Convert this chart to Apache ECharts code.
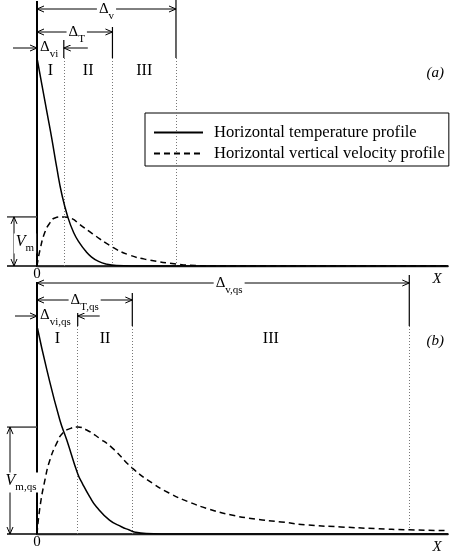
<!DOCTYPE html>
<html>
<head>
<meta charset="utf-8">
<script src="https://cdn.jsdelivr.net/npm/echarts@6/dist/echarts.min.js"></script>
<style>
  html, body { margin: 0; background: #fff; }
  #chart { width: 451px; height: 560px; }
</style>
</head>
<body>
<div id="chart"></div>
<script>
// horizontal distance from the wall (arbitrary units), profiles normalised to the wall value
const tempA_x = [0, 5, 10, 15, 20, 25, 31, 37, 43, 49, 55, 62, 70, 80, 95, 414];
const tempA_y = [1.0, 0.87, 0.74, 0.61, 0.47, 0.345, 0.236, 0.16, 0.11, 0.072, 0.043, 0.022, 0.009, 0.002, 0, 0];
const velA_x = [0, 3, 8, 13, 18, 26, 35, 43, 56, 76, 93, 113, 140, 160, 180, 414];
const velA_y = [0, 0.077, 0.163, 0.207, 0.231, 0.236, 0.228, 0.2, 0.155, 0.091, 0.053, 0.029, 0.01, 0.002, 0, 0];

const tempB_x = [0, 10, 23, 30, 41, 46, 53, 60, 73, 85, 93, 98, 110, 125, 414];
const tempB_y = [1.0, 0.788, 0.548, 0.452, 0.29, 0.24, 0.18, 0.13, 0.067, 0.035, 0.019, 0.01, 0.002, 0, 0];
const velB_x = [0, 3, 8, 13, 20, 26, 34, 41, 50, 63, 76, 96, 116, 133, 153, 173, 196, 220, 246, 273, 306, 340, 375, 414];
const velB_y = [0, 0.13, 0.26, 0.356, 0.438, 0.486, 0.508, 0.514, 0.5, 0.46, 0.413, 0.317, 0.245, 0.197, 0.154, 0.12, 0.091, 0.072, 0.058, 0.043, 0.034, 0.026, 0.02, 0.016];

// zone boundaries: [Δvi, ΔT, Δv]
const zonesA = [27, 76, 140];
const zonesB = [41, 96, 375];
const zoneLabels = ['I', 'II', 'III'];
const dimLabelsA = ['vi', 'T', 'v'];
const dimLabelsB = ['vi,qs', 'T,qs', 'v,qs'];
const vmLabels = ['m', 'm,qs'];
const panelTags = ['(a)', '(b)'];
const X_MAX = 414;

const NAME_T = 'Horizontal temperature profile';
const NAME_V = 'Horizontal vertical velocity profile';
const FONT = '"Liberation Serif", "Times New Roman", serif';

const chart = echarts.init(document.getElementById('chart'));

function pair(xs, ys) {
  return xs.map((x, i) => [x, ys[i]]);
}

function panelSeries(gi, zones, tx, ty, vx, vy) {
  const common = {
    type: 'line', xAxisIndex: gi * 2, yAxisIndex: gi,
    symbol: 'none', smooth: 0.5, silent: true,
    itemStyle: { color: '#000' }
  };
  return [
    Object.assign({}, common, {
      name: NAME_T,
      data: pair(tx, ty),
      z: 5,
      lineStyle: { color: '#000', width: 1.5 },
      markLine: {
        silent: true, symbol: 'none', animation: false,
        label: { show: false },
        lineStyle: { color: '#777', type: [1, 2], width: 1 },
        data: zones.map(z => ({ xAxis: z }))
      },
      markArea: {
        silent: true,
        itemStyle: { color: 'rgba(0,0,0,0)' },
        label: { position: 'insideTop', distance: 5, color: '#000', fontFamily: FONT, fontSize: 16 },
        data: zones.map((z, i) => [{ name: zoneLabels[i], xAxis: i ? zones[i - 1] : 0 }, { xAxis: z }])
      }
    }),
    Object.assign({}, common, {
      name: NAME_V,
      data: pair(vx, vy),
      z: 4,
      lineStyle: { color: '#000', width: 1.5, type: [6, 4] }
    })
  ];
}

function bottomAxis(gi) {
  return {
    gridIndex: gi, type: 'value', min: 0, max: X_MAX, interval: X_MAX,
    axisLine: { show: true, onZero: false, lineStyle: { color: '#000', width: 1.5 } },
    axisTick: { show: false }, splitLine: { show: false },
    axisLabel: { formatter: v => (v === 0 ? '0' : ''), color: '#000', fontFamily: FONT, fontSize: 15, margin: 1 }
  };
}
function topAxis(gi) {
  return {
    gridIndex: gi, type: 'value', position: 'top', min: 0, max: X_MAX,
    axisLine: { show: true, lineStyle: { color: '#222', width: 1.3 } },
    axisTick: { show: false }, splitLine: { show: false }, axisLabel: { show: false }
  };
}
function leftAxis(gi) {
  return {
    gridIndex: gi, type: 'value', min: 0, max: 1,
    axisLine: { show: true, lineStyle: { color: '#000', width: 2 } },
    axisTick: { show: false }, splitLine: { show: false }, axisLabel: { show: false }
  };
}

chart.setOption({
  animation: false,
  grid: [
    { left: 37, top: 58, width: 414, height: 208 },
    { left: 37, top: 326, width: 414, height: 208 }
  ],
  xAxis: [bottomAxis(0), topAxis(0), bottomAxis(1), topAxis(1)],
  yAxis: [leftAxis(0), leftAxis(1)],
  legend: {
    data: [NAME_T, NAME_V],
    orient: 'vertical', left: 145, top: 113,
    padding: [11, 4, 4, 8],
    itemWidth: 49, itemHeight: 16, itemGap: 4,
    borderColor: '#000', borderWidth: 1,
    selectedMode: false,
    itemStyle: { color: 'rgba(0,0,0,0)', borderColor: 'rgba(0,0,0,0)', borderWidth: 0, opacity: 0 },
    textStyle: { color: '#000', fontFamily: FONT, fontSize: 16.6, lineHeight: 16, padding: [0, 0, 0, 6] }
  },
  series: panelSeries(0, zonesA, tempA_x, tempA_y, velA_x, velA_y)
    .concat(panelSeries(1, zonesB, tempB_x, tempB_y, velB_x, velB_y))
});

// ---- annotations (dimension arrows, V_m, labels) ----
const LINE = { stroke: '#000', lineWidth: 1 };
function px(gi, x, y) {
  return chart.convertToPixel({ seriesIndex: gi * 2 }, [x, y]);
}
function seg(x1, y1, x2, y2, w, color) {
  return { type: 'line', z: 50, shape: { x1, y1, x2, y2 }, style: { stroke: color || '#000', lineWidth: w || 1 } };
}
function headH(x, y, dir) {
  return { type: 'polyline', z: 50, shape: { points: [[x - dir * 7, y - 3], [x, y], [x - dir * 7, y + 3]] }, style: LINE };
}
function headV(x, y, dir) {
  return { type: 'polyline', z: 50, shape: { points: [[x - 3, y - dir * 7], [x, y], [x + 3, y - dir * 7]] }, style: LINE };
}
const RICH = {
  d: { fontFamily: FONT, fontSize: 15, lineHeight: 16, verticalAlign: 'top' },
  s: { fontFamily: FONT, fontSize: 11, lineHeight: 20, verticalAlign: 'bottom' },
  V: { fontFamily: FONT, fontSize: 16, fontStyle: 'italic', lineHeight: 16, verticalAlign: 'top' }
};
function label(x, y, main, sub, align, key) {
  return {
    type: 'text', z: 60, x, y,
    style: {
      text: '{' + (key || 'd') + '|' + main + '}{s|' + sub + '}',
      rich: RICH, fill: '#000', align: align || 'center', verticalAlign: 'middle',
      backgroundColor: '#fff', padding: [0, 2]
    }
  };
}
function plainText(x, y, str, align, italic) {
  return {
    type: 'text', z: 60, x, y,
    style: {
      text: str, fill: '#000', fontFamily: FONT, fontSize: 15, fontStyle: italic ? 'italic' : 'normal',
      align: align || 'center', verticalAlign: 'middle'
    }
  };
}

function panelGraphics(gi, zones, dims, vy, opts) {
  const g = [];
  const o = px(gi, 0, 0);
  const top = px(gi, 0, 1)[1];
  const base = o[1];
  const right = px(gi, X_MAX, 0)[0];
  const b = zones.map(z => px(gi, z, 0)[0]);

  // left wall extension and baseline extension
  g.push(seg(o[0], top + opts.wallTop, o[0], top, 2));
  g.push(seg(o[0] - 30, base, o[0], base, 1.5));

  // full-span dimension arrows (ΔT, Δv)
  [2, 1].forEach(i => {
    const y = top + opts.arrowY[i];
    g.push(seg(b[i], top + opts.extTop[i], b[i], top, 1.2));
    g.push(seg(o[0], y, b[i], y));
    g.push(headH(o[0], y, -1), headH(b[i], y, 1));
    g.push(label((o[0] + b[i]) / 2 + opts.labelShift[i], y + 3, 'Δ', dims[i]));
  });
  // Δvi: arrows pointing inward from outside
  const yi = top + opts.arrowY[0];
  g.push(seg(b[0], top + opts.extTop[0], b[0], top, 1.2));
  g.push(seg(o[0] - opts.inLen, yi, o[0], yi), headH(o[0], yi, 1));
  g.push(seg(b[0] + opts.inLen, yi, b[0], yi), headH(b[0], yi, -1));
  g.push(label(o[0] + 1, yi + 2, 'Δ', dims[0], 'left'));

  // V_m marker at peak of vertical velocity
  const vmY = px(gi, 0, Math.max.apply(null, vy))[1];
  g.push(seg(o[0] - 30, vmY, o[0], vmY, 1.5, '#444'));
  const ax = opts.vmArrowX;
  g.push(seg(ax, vmY, ax, base));
  g.push(headV(ax, vmY, -1), headV(ax, base, 1));
  g.push(label(opts.vmLabelX, (vmY + base) / 2 + 2, 'V', vmLabels[gi], 'center', 'V'));

  // panel tag and axis name
  g.push(plainText(right - 4, top + 15, panelTags[gi], 'right', true));
  g.push(plainText(right - 11, base + 13, 'X', 'center', true));
  return g;
}

const graphics = panelGraphics(0, zonesA, dimLabelsA, velA_y, {
  wallTop: -57, arrowY: [-10, -26, -49], extTop: [-18, -31, -58], labelShift: [0, 2, 0],
  inLen: 24, vmArrowX: 14, vmLabelX: 25
}).concat(panelGraphics(1, zonesB, dimLabelsB, velB_y, {
  wallTop: -44, arrowY: [-10, -26, -43], extTop: [-16, -33, -51], labelShift: [0, 0, 6],
  inLen: 22, vmArrowX: 10, vmLabelX: 21
}));

chart.setOption({ graphic: graphics });
</script>
</body>
</html>
